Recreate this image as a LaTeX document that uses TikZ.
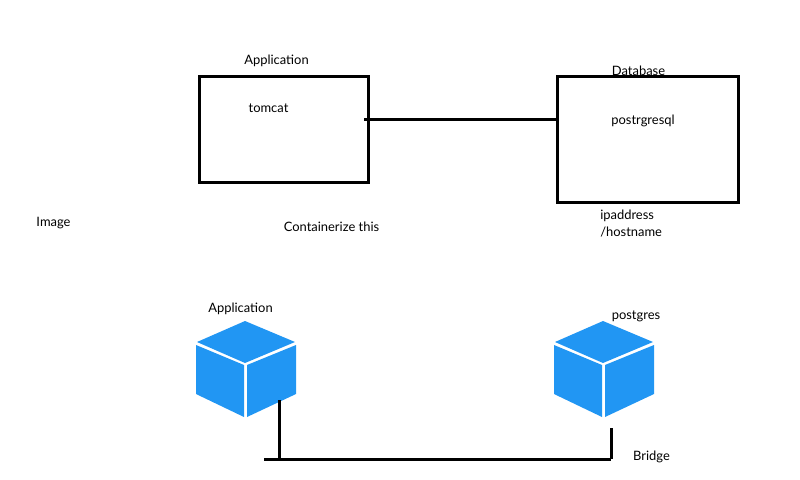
\documentclass[tikz,border=0pt]{standalone}
\usepackage{fontspec}
\setmainfont{Lato}
\definecolor{cubeblue}{HTML}{2196F3}
\tikzset{
    boxnode/.style={draw=black,line width=2.25pt,inner sep=0pt,minimum width=126pt},
    wire/.style={draw=black,line width=2.25pt},
    lbl/.style={inner sep=0pt,font=\fontsize{9.7}{12.75}\selectfont},
    cubeicon/.pic={
        \fill [cubeblue] (0,-44) -- (50,-23) -- (0,-2) -- (-48,-23) -- cycle;
        \fill [cubeblue] (-49,-20) -- (-1,0) -- (-1,52) -- (-49,29) -- cycle;
        \fill [cubeblue] (2,0) -- (51,-20) -- (51,29) -- (2,52) -- cycle;
    }
}
\begin{document}
\begin{tikzpicture}[x=0.75pt,y=-0.75pt]
    \useasboundingbox (0,0) rectangle (800,479);
    % top row
    \node [boxnode,minimum width=126.75pt,minimum height=79.5pt] (appbox) at (283.5,129) {};
    \node [boxnode,minimum width=135.75pt,minimum height=94.5pt] (dbbox) at (647.5,139) {};
    \coordinate (append) at (364,119);
    \draw [wire] (append) -- (append -| dbbox.west);
    \node [lbl] (applbl) at (276.5,61) {Application};
    \node [lbl] (dblbl) at (638.5,70.5) {Database};
    \node [lbl] (tomcat) at (268.5,108) {tomcat};
    \node [lbl] (pglbl) at (643,121) {postrgresql};
    \node [lbl,align=left,anchor=north west] (iplbl) at (600,209.5) {ipaddress\\/hostname};
    \node [lbl] (imagelbl) at (53.5,223.5) {Image};
    \node [lbl] (contlbl) at (331.5,227) {Containerize this};
    % cubes
    \pic (appcube) at (245,365) {cubeicon};
    \pic (pgcube) at (603,365) {cubeicon};
    \node [lbl] (applbl2) at (240.5,309) {Application};
    \node [lbl] (pgcubelbl) at (636,316.5) {postgres};
    % bridge
    \coordinate (brleft) at (264,459);
    \coordinate (brright) at (611,459);
    \coordinate (appstub) at (279,400);
    \coordinate (pgstub) at (611,428);
    \draw [wire] (brleft) -- (brright);
    \draw [wire] (appstub) -- (appstub |- brleft);
    \draw [wire] (pgstub) -- (brright);
    \node [lbl] (brlbl) at (651.5,457) {Bridge};
\end{tikzpicture}
\end{document}
